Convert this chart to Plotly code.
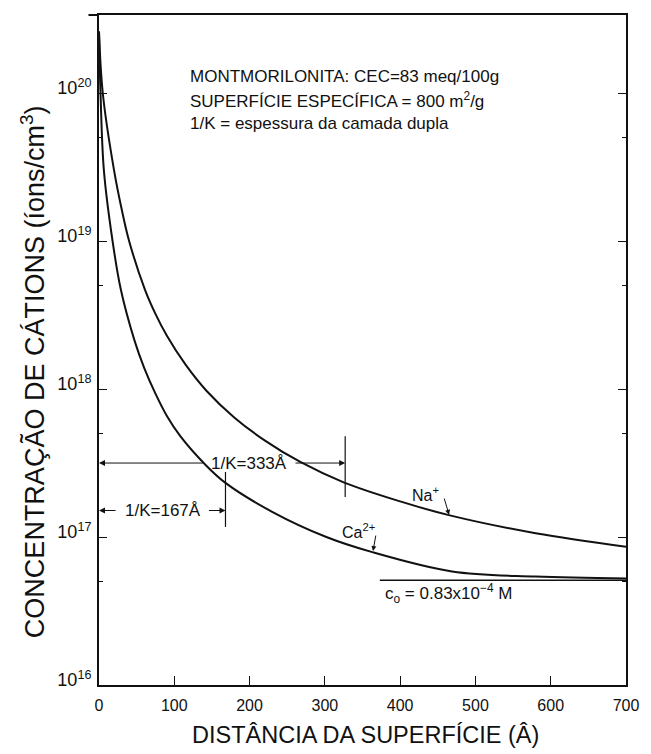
import numpy as np
import plotly.graph_objects as go

# ---------------- data ----------------
na_x = [0, 5, 20, 30, 40, 61, 75, 90, 115, 143, 180, 220, 268, 325, 400, 466, 580, 700]
na_y = [2.6e20, 1.0e20, 3.0e19, 1.65e19, 1.0e19, 4.7e18, 3.22e18, 2.3e18, 1.46e18,
        9.7e17, 6.4e17, 4.5e17, 3.2e17, 2.34e17, 1.74e17, 1.40e17, 1.06e17, 8.6e16]

ca_x = [0, 2, 6.5, 18, 29, 47, 60, 75, 90, 108, 141, 168, 230, 302, 363, 469, 580, 700]
ca_y = [2.6e20, 1.0e20, 3.0e19, 1.0e19, 4.7e18, 2.14e18, 1.39e18, 9.3e17, 6.6e17, 4.8e17,
        3.09e17, 2.32e17, 1.48e17, 1.0e17, 7.9e16, 5.85e16, 5.4e16, 5.25e16]

c0_x = [373, 700]
c0_value = 5.1e16

x_ticks = [0, 100, 200, 300, 400, 500, 600, 700]
y_exponents = [16, 17, 18, 19, 20]
y_minor = [5e16, 5e17, 5e18, 5e19, 5e20]

info_lines = ["MONTMORILONITA: CEC=83 meq/100g",
              "SUPERFÍCIE ESPECÍFICA = 800 m<sup>2</sup>/g",
              "1/K = espessura da camada dupla"]

# double-layer thickness markers: label, drawn end, level, tick span
dl_labels = ["1/K=333Å", "1/K=167Å"]
dl_end = [327, 168]
dl_level = [3.16e17, 1.51e17]
dl_tick_lo = [1.86e17, 1.17e17]
dl_tick_hi = [4.8e17, 2.75e17]
dl_text_x = [199, 85]
dl_gap = [(140, 259), (24, 144)]

BLACK = "#111111"
FONT = "Liberation Sans, Arial, sans-serif"

fig = go.Figure()

for xs, ys in ((na_x, na_y), (ca_x, ca_y)):
    fig.add_trace(go.Scatter(x=xs, y=ys, mode="lines",
                             line=dict(color=BLACK, width=2, shape="spline", smoothing=1.0),
                             hoverinfo="skip", showlegend=False))
# c0 line
fig.add_trace(go.Scatter(x=c0_x, y=[c0_value, c0_value], mode="lines",
                         line=dict(color=BLACK, width=1.5),
                         hoverinfo="skip", showlegend=False))

# vertical ticks of the 1/K markers
for e, lo, hi in zip(dl_end, dl_tick_lo, dl_tick_hi):
    fig.add_trace(go.Scatter(x=[e, e], y=[lo, hi], mode="lines",
                             line=dict(color=BLACK, width=1.2),
                             hoverinfo="skip", showlegend=False))

ann = []
for lab, e, lvl, tx, (g0, g1) in zip(dl_labels, dl_end, dl_level, dl_text_x, dl_gap):
    ly = float(np.log10(lvl))
    ann.append(dict(x=0, y=ly, ax=g0, ay=ly, xref="x", yref="y", axref="x", ayref="y",
                    text="", showarrow=True, arrowhead=2, arrowsize=1.2, arrowwidth=1,
                    arrowcolor=BLACK))
    ann.append(dict(x=e, y=ly, ax=g1, ay=ly, xref="x", yref="y", axref="x", ayref="y",
                    text="", showarrow=True, arrowhead=2, arrowsize=1.2, arrowwidth=1,
                    arrowcolor=BLACK))
    ann.append(dict(x=tx, y=ly, xref="x", yref="y", text=lab, showarrow=False,
                    font=dict(family=FONT, size=17, color=BLACK)))

# ion labels with arrows
ann.append(dict(x=434, y=17.29, xref="x", yref="y", text="Na<sup>+</sup>", showarrow=False,
                font=dict(family=FONT, size=16, color=BLACK)))
ann.append(dict(x=465, y=17.15, ax=458, ay=17.27, xref="x", yref="y", axref="x", ayref="y",
                text="", showarrow=True, arrowhead=2, arrowsize=1, arrowwidth=1,
                arrowcolor=BLACK))
ann.append(dict(x=345, y=17.04, xref="x", yref="y", text="Ca<sup>2+</sup>", showarrow=False,
                font=dict(family=FONT, size=16, color=BLACK)))
ann.append(dict(x=364, y=16.905, ax=368, ay=17.02, xref="x", yref="y", axref="x", ayref="y",
                text="", showarrow=True, arrowhead=2, arrowsize=1, arrowwidth=1,
                arrowcolor=BLACK))
ann.append(dict(x=377, y=16.62, xref="x", yref="y", xanchor="left",
                text="c<sub>o</sub> = 0.83x10<sup>−4</sup> M", showarrow=False,
                font=dict(family=FONT, size=17, color=BLACK)))

# info block (one annotation per line, positions in paper units)
for i, line in enumerate(info_lines):
    ann.append(dict(x=0.169, y=(685 - (76 + 23.5 * i)) / 670, xref="paper", yref="paper",
                    xanchor="left", yanchor="middle", align="left", showarrow=False,
                    text=line, font=dict(family=FONT, size=17, color=BLACK)))

# axis titles
ann.append(dict(x=(32 - 99) / 536, y=(685 - 372) / 670, xref="paper", yref="paper",
                xanchor="center", yanchor="middle", textangle=-90, showarrow=False,
                text="CONCENTRAÇÃO DE CÁTIONS (íons/cm<sup>3</sup>)",
                font=dict(family=FONT, size=27, color=BLACK)))
ann.append(dict(x=(370 - 99) / 536, y=-(735 - 685) / 670, xref="paper", yref="paper",
                xanchor="center", yanchor="middle", showarrow=False,
                text="DISTÂNCIA DA SUPERFÍCIE (Â)",
                font=dict(family=FONT, size=23.5, color=BLACK)))

fig.update_layout(
    width=651, height=754,
    margin=dict(l=99, r=16, t=15, b=69),
    paper_bgcolor="white", plot_bgcolor="white",
    annotations=ann,
    shapes=[dict(type="line", xref="paper", yref="paper", x0=-0.02, x1=0, y0=1, y1=1,
                 line=dict(color=BLACK, width=2))],
    xaxis=dict(range=[0, 700], tickvals=x_ticks, ticktext=[str(v) for v in x_ticks],
               ticks="inside", ticklen=9, tickwidth=1.2, tickcolor=BLACK,
               ticklabelstandoff=5,
               showline=True, linecolor=BLACK, linewidth=2, mirror=True,
               showgrid=False, zeroline=False,
               tickfont=dict(family=FONT, size=16, color=BLACK)),
    yaxis=dict(type="log", range=[16, 20.527],
               tickvals=[10.0 ** e for e in y_exponents],
               ticktext=[f"10<sup>{e}</sup>" for e in y_exponents],
               ticks="inside", ticklen=8, tickwidth=1.2, tickcolor=BLACK,
               ticklabelshift=-5, ticklabelstandoff=2,
               minor=dict(ticks="inside", ticklen=4, tickwidth=1, tickcolor=BLACK,
                          tickvals=y_minor),
               showline=True, linecolor=BLACK, linewidth=2, mirror="allticks",
               showgrid=False, zeroline=False,
               tickfont=dict(family=FONT, size=18, color=BLACK)),
)

fig.write_html("out.html")
